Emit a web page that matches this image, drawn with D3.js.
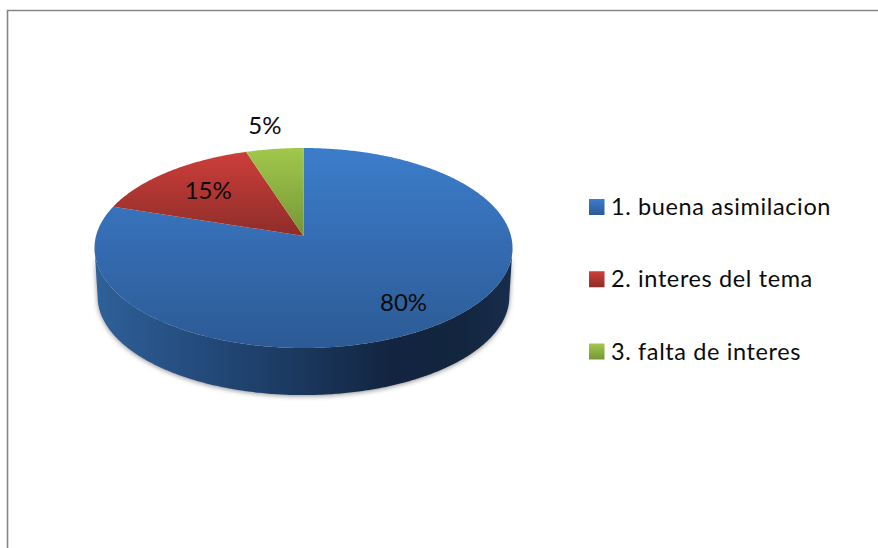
<!DOCTYPE html>
<html>
<head>
<meta charset="utf-8">
<script src="https://cdn.jsdelivr.net/npm/d3@7"></script>
<style>
html,body{margin:0;padding:0;background:#fff;overflow:hidden}
svg{display:block}
text{font-family:Lato,"Open Sans",sans-serif;fill:#0b0b0b}
</style>
</head>
<body>
<svg id="c" width="878" height="548"></svg>
<script>
const categories = ["1. buena asimilacion", "2. interes del tema", "3. falta de interes"];
const values = [80, 15, 5];
const topColors = ["#3c7dcb", "#cd3e3a", "#a1c84c"];
const bottomColors = ["#2c5a95", "#8e2d2a", "#779636"];

const svg = d3.select("#c");
const defs = svg.append("defs");

// chart frame
svg.append("path").attr("d", "M878,10.5H7.5V548").attr("fill", "none").attr("stroke", "#868686").attr("stroke-width", 1.6);

// perspective projection of the unit disc
const apex = {x: 303.5, y: 236}, persp = 0.12, sx = 207.5, sy = 98.56;
function project(angle, r, drop, shrink) {
  const u = Math.sin(angle) * r * (shrink || 1), v = Math.cos(angle) * r * (shrink || 1);
  const d = 1 + persp * v;
  return [apex.x + sx * u / d, apex.y - sy * v / d + (drop || 0)];
}
const line = d3.line();
const pie = d3.pie().sort(null).startAngle(0).endAngle(2 * Math.PI);
const arcs = pie(values);
const step = 0.01;

values.forEach((v, i) => {
  const g = defs.append("linearGradient").attr("id", "g" + i).attr("x1", 0).attr("y1", 0).attr("x2", 0).attr("y2", 1);
  g.append("stop").attr("offset", 0).attr("stop-color", topColors[i]);
  g.append("stop").attr("offset", 1).attr("stop-color", bottomColors[i]);
});

const wall = defs.append("linearGradient").attr("id", "wall").attr("gradientUnits", "userSpaceOnUse")
  .attr("x1", 96).attr("x2", 512).attr("y1", 0).attr("y2", 0);
[[0, "#2e6099"], [0.2, "#264f82"], [0.45, "#1c3b63"], [0.72, "#12243f"], [0.88, "#13263f"], [1, "#172d4c"]].forEach(s =>
  wall.append("stop").attr("offset", s[0]).attr("stop-color", s[1]));

const blur = defs.append("filter").attr("id", "soft").attr("x", "-10%").attr("y", "-10%").attr("width", "120%").attr("height", "130%");
blur.append("feGaussianBlur").attr("stdDeviation", 2.4);

// side wall of the disc: widest point to widest point along both rims
const depth = 49, shrink = 0.985;
const lower = d3.range(Math.PI * 0.5 + 0.12, Math.PI * 1.5 - 0.12, step);
const wallPts = lower.map(a => project(a, 1, 0))
  .concat(lower.slice().reverse().map(a => project(a, 1, depth, shrink)));

svg.append("path").attr("d", line(wallPts) + "Z").attr("fill", "#7a7a7a").attr("opacity", 0.85)
  .attr("transform", "translate(0,1)").attr("filter", "url(#soft)");
svg.append("path").attr("d", line(wallPts) + "Z").attr("fill", "url(#wall)");

// top slices
arcs.forEach((a, i) => {
  const pts = [[apex.x, apex.y]].concat(d3.range(a.startAngle, a.endAngle, step).map(t => project(t, 1)));
  pts.push(project(a.endAngle, 1));
  svg.append("path").attr("d", line(pts) + "Z").attr("fill", `url(#g${i})`);
});

// data labels
const labelRadius = [0.76, 0.68, 1.3];
const labelNudgeX = [0, -1, -2];
const labelNudgeY = [2, 0, 0];
arcs.forEach((a, i) => {
  const p = project((a.startAngle + a.endAngle) / 2, labelRadius[i]);
  svg.append("text").attr("x", p[0] + labelNudgeX[i]).attr("y", p[1] + 8 + labelNudgeY[i]).attr("text-anchor", "middle")
    .attr("font-size", 24).text(a.value + "%");
});

// legend
const legendY = d3.scalePoint().domain(categories).range([207, 351.5]);
categories.forEach((c, i) => {
  const y = legendY(c);
  svg.append("rect").attr("x", 589).attr("y", y - 8).attr("width", 15.5).attr("height", 16).attr("fill", `url(#g${i})`);
  svg.append("text").attr("x", 611).attr("y", y + 8).attr("font-size", 23.5).attr("letter-spacing", 0.62).text(c);
});
</script>
</body>
</html>
